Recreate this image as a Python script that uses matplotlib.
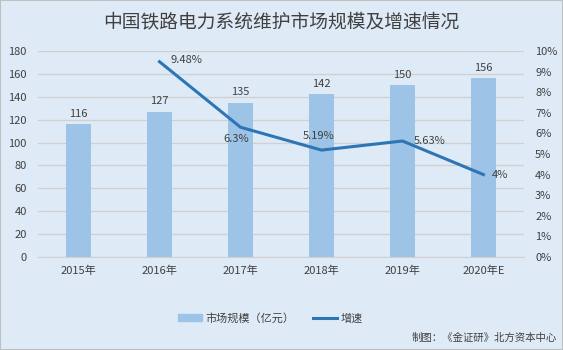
import matplotlib.pyplot as plt
from matplotlib.ticker import FuncFormatter
from matplotlib.patches import Rectangle

plt.rcParams['font.family'] = ['Noto Sans CJK SC', 'DejaVu Sans']

years = ['2015年', '2016年', '2017年', '2018年', '2019年', '2020年E']
market_size = [116, 127, 135, 142, 150, 156]
growth_years = ['2016年', '2017年', '2018年', '2019年', '2020年E']
growth = [9.48, 6.3, 5.19, 5.63, 4]
growth_labels = ['9.48%', '6.3%', '5.19%', '5.63%', '4%']

bg = '#DEEAF6'
bar_color = '#9DC3E6'
line_color = '#2E75B6'
text_color = '#404040'

fig = plt.figure(figsize=(5.63, 3.5), dpi=100, facecolor=bg)
fig.patches.append(Rectangle((0, 0), 1, 1, transform=fig.transFigure,
                             fill=False, edgecolor='#BFBFBF', linewidth=1.5))

ax = fig.add_axes([38 / 563, 1 - 257 / 350, 486 / 563, 206 / 350])
ax.set_facecolor(bg)
x = list(range(len(years)))
ax.bar(x, market_size, width=0.31, color=bar_color, zorder=2)
for xi, v in zip(x, market_size):
    ax.text(xi, v + 5, str(v), ha='center', va='bottom', fontsize=8, color=text_color)

ax.set_xlim(-0.5, len(years) - 0.5)
ax.set_ylim(0, 180)
ax.set_yticks(range(0, 181, 20))
ax.set_xticks(x)
ax.set_xticklabels(years)
ax.grid(axis='y', color='#D0D0D0', linewidth=0.9, zorder=0)
for s in ax.spines.values():
    s.set_visible(False)
ax.spines['bottom'].set_visible(True)
ax.spines['bottom'].set_color('#D0D0D0')
ax.tick_params(length=0, labelsize=8, colors=text_color)
ax.tick_params(axis='y', pad=8)
ax.tick_params(axis='x', pad=6)

ax2 = ax.twinx()
gx = [years.index(y) for y in growth_years]
ax2.plot(gx, growth, color=line_color, linewidth=2.2, zorder=3)
ax2.set_ylim(0, 10)
ax2.set_yticks(range(0, 11))
ax2.yaxis.set_major_formatter(FuncFormatter(lambda v, _: f'{v:.0f}%'))
ax2.tick_params(length=0, labelsize=8, colors=text_color, pad=8)
for s in ax2.spines.values():
    s.set_visible(False)

# percentage labels next to each point
offsets = [(8, 1, 'left', 'center'), (-3, -5, 'center', 'top'),
           (-2, 10, 'center', 'center'), (8, 0, 'left', 'center'),
           (6, 0, 'left', 'center')]
for xi, v, lab, (dx, dy, ha, va) in zip(gx, growth, growth_labels, offsets):
    ax2.annotate(lab, (xi, v), xytext=(dx, dy), textcoords='offset points',
                 ha=ha, va=va, fontsize=8, color=text_color)

fig.text(0.5, 1 - 22 / 350, '中国铁路电力系统维护市场规模及增速情况',
         ha='center', va='center', fontsize=13.5, color=text_color)

handles = [Rectangle((0, 0), 1, 1, color=bar_color),
           plt.Line2D([0], [0], color=line_color, linewidth=2.2)]
fig.legend(handles, ['市场规模（亿元）', '增速'], loc='center',
           bbox_to_anchor=(0.48, 1 - 318 / 350), ncol=2, frameon=False,
           fontsize=8, handlelength=2.2, handleheight=0.5, handletextpad=0.3,
           columnspacing=1.6, labelcolor=text_color)

fig.text(1 - 6 / 563, 1 - 338 / 350, '制图：《金证研》北方资本中心',
         ha='right', va='center', fontsize=7.5, color=text_color)

fig.savefig('out.png', dpi=100, facecolor=bg)
